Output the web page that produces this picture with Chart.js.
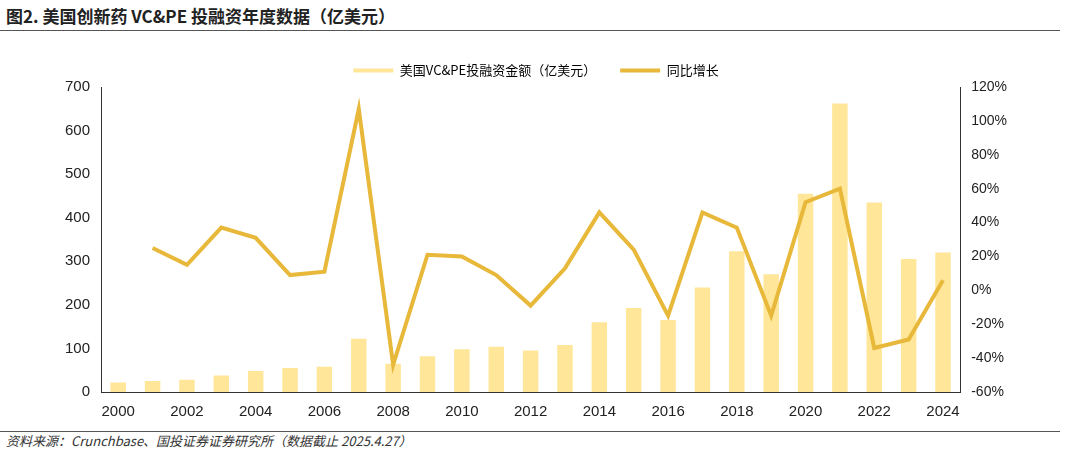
<!DOCTYPE html>
<html>
<head>
<meta charset="utf-8">
<script src="https://cdn.jsdelivr.net/npm/chart.js@4/dist/chart.umd.min.js"></script>
<style>
body{margin:0;width:1065px;height:455px;background:#fff;font-family:"Noto Sans CJK SC","Noto Sans",sans-serif;overflow:hidden}
#title{position:absolute;left:6px;top:3px;font-size:17px;font-weight:bold;color:#222}
#topline{position:absolute;left:0;top:30px;width:1060px;border-top:1px solid #555}
#box{position:absolute;left:0;top:40px;width:1010px;height:384px}
#botline{position:absolute;left:0;top:431px;width:1060px;border-top:1px solid #555}
#src{position:absolute;left:6px;top:431px;font-size:13px;font-style:italic;color:#333}
</style>
</head>
<body>
<div id="title">图2. 美国创新药 VC&amp;PE 投融资年度数据（亿美元）</div>
<div id="topline"></div>
<div id="box"><canvas id="c"></canvas></div>
<div id="botline"></div>
<div id="src">资料来源：Crunchbase、国投证券证券研究所（数据截止 2025.4.27）</div>
<script>
const years = ["2000","2001","2002","2003","2004","2005","2006","2007","2008","2009","2010","2011","2012","2013","2014","2015","2016","2017","2018","2019","2020","2021","2022","2023","2024"];
const amount = [22,25,28,38,48,55,58,122,65,82,98,104,95,108,160,193,165,240,323,270,455,662,435,305,320];
const growth = [null,25,15,37,31,9,11,107,-44,21,20,9,-9,13,46,24,-15,46,37,-15,52,60,-34,-29,6];

new Chart(document.getElementById('c').getContext('2d'), {
    type: 'bar',
    data: {
        labels: years,
        datasets: [{
            label: '美国VC&PE投融资金额（亿美元）',
            data: amount,
            yAxisID: 'y',
            backgroundColor: '#FFE699',
            barPercentage: 0.45,
            categoryPercentage: 1,
            order: 2
        }, {
            type: 'line',
            label: '同比增长',
            data: growth,
            yAxisID: 'y1',
            borderColor: '#E8B83A',
            backgroundColor: '#E8B83A',
            borderWidth: 4,
            pointRadius: 0,
            order: 1
        }]
    },
    options: {
        animation: false,
        responsive: true,
        maintainAspectRatio: false,
        layout: {padding: {left: 62, right: 0, top: 0}},
        plugins: {
            legend: {
                labels: {
                    font: {size: 13, family: '"Noto Sans CJK SC"'},
                    color: '#222',
                    boxWidth: 40,
                    boxHeight: 4,
                    padding: 24,
                    generateLabels: chart => {
                        const ds = chart.data.datasets;
                        return [
                            {text: ds[0].label, fillStyle: '#FFE699', strokeStyle: '#FFE699', lineWidth: 0, datasetIndex: 0},
                            {text: ds[1].label, fillStyle: '#E8B83A', strokeStyle: '#E8B83A', lineWidth: 0, datasetIndex: 1}
                        ];
                    }
                }
            }
        },
        scales: {
            x: {
                grid: {display: false},
                border: {color: '#333'},
                ticks: {
                    autoSkip: false,
                    maxRotation: 0,
                    color: '#222',
                    font: {size: 15},
                    callback: (v, i) => i % 2 === 0 ? years[i] : ''
                }
            },
            y: {
                min: 0, max: 700,
                grid: {display: false},
                border: {color: '#333'},
                ticks: {stepSize: 100, color: '#222', font: {size: 15}}
            },
            y1: {
                position: 'right',
                min: -60, max: 120,
                grid: {display: false},
                border: {color: '#333'},
                ticks: {stepSize: 20, color: '#222', font: {size: 14}, callback: v => v + '%'}
            }
        }
    }
});
</script>
</body>
</html>
